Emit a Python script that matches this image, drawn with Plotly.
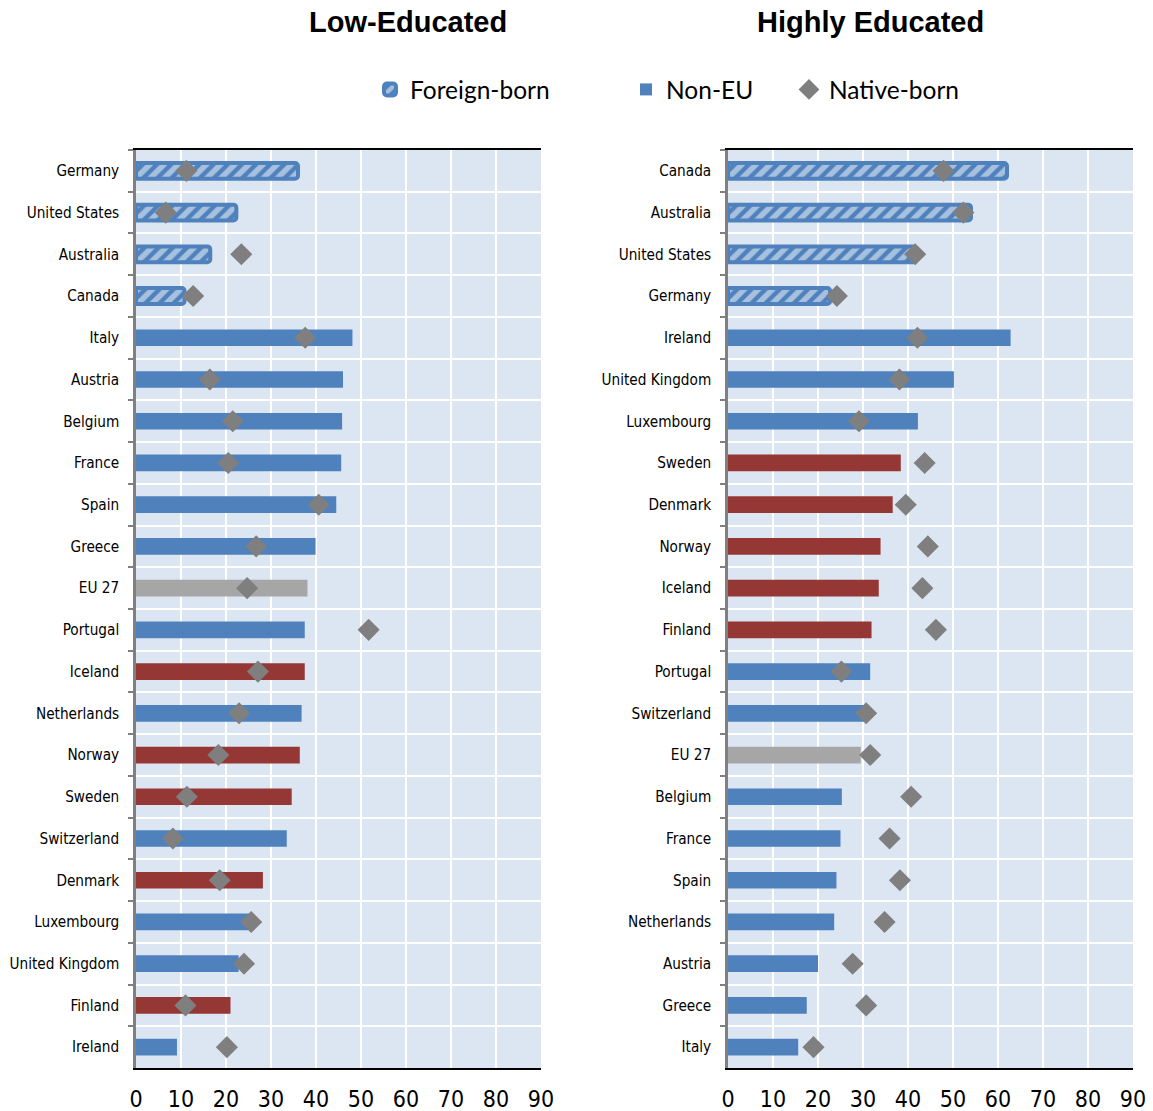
import plotly.graph_objects as go

# ---- Low-educated panel (top to bottom) ----
low_countries = ["Germany", "United States", "Australia", "Canada", "Italy", "Austria",
                 "Belgium", "France", "Spain", "Greece", "EU 27", "Portugal", "Iceland",
                 "Netherlands", "Norway", "Sweden", "Switzerland", "Denmark", "Luxembourg",
                 "United Kingdom", "Finland", "Ireland"]
low_group = ["FB", "FB", "FB", "FB", "NonEU", "NonEU", "NonEU", "NonEU", "NonEU", "NonEU",
             "EU", "NonEU", "Nordic", "NonEU", "Nordic", "Nordic", "NonEU", "Nordic",
             "NonEU", "NonEU", "Nordic", "NonEU"]
low_migrant = [36.0, 22.3, 16.5, 10.8, 48.1, 46.0, 45.8, 45.6, 44.5, 39.9, 38.1, 37.5, 37.5,
               36.8, 36.4, 34.6, 33.5, 28.2, 25.8, 22.8, 21.0, 9.1]
low_native = [11.2, 6.6, 23.4, 12.7, 37.6, 16.4, 21.5, 20.5, 40.6, 26.7, 24.7, 51.7, 27.1,
              22.9, 18.3, 11.3, 8.2, 18.6, 25.6, 24.0, 11.0, 20.2]

# ---- Highly educated panel (top to bottom) ----
high_countries = ["Canada", "Australia", "United States", "Germany", "Ireland",
                  "United Kingdom", "Luxembourg", "Sweden", "Denmark", "Norway", "Iceland",
                  "Finland", "Portugal", "Switzerland", "EU 27", "Belgium", "France", "Spain",
                  "Netherlands", "Austria", "Greece", "Italy"]
high_group = ["FB", "FB", "FB", "FB", "NonEU", "NonEU", "NonEU", "Nordic", "Nordic", "Nordic",
              "Nordic", "Nordic", "NonEU", "NonEU", "EU", "NonEU", "NonEU", "NonEU", "NonEU",
              "NonEU", "NonEU", "NonEU"]
high_migrant = [62.0, 54.0, 41.9, 22.7, 62.8, 50.2, 42.2, 38.4, 36.6, 33.9, 33.5, 31.9, 31.6,
                30.3, 29.5, 25.3, 25.0, 24.1, 23.6, 20.0, 17.5, 15.6]
high_native = [47.9, 52.3, 41.6, 24.2, 42.1, 38.1, 29.1, 43.7, 39.5, 44.4, 43.2, 46.2, 25.2,
               30.7, 31.6, 40.7, 35.9, 38.2, 34.8, 27.7, 30.7, 19.0]

x_ticks = [0, 10, 20, 30, 40, 50, 60, 70, 80, 90]

BLUE = "#4F81BD"
RED = "#953735"
GREY_BAR = "#A6A6A6"
DIAMOND = "#7F7F7F"
PLOT_BG = "#DCE6F2"
LABEL_FONT = "Liberation Sans Narrow, Arial Narrow, DejaVu Sans Condensed, sans-serif"
LEGEND_FONT = "Lato, Carlito, Calibri, sans-serif"

fig = go.Figure()


def add_panel(countries, groups, migrant, native, xa, ya, show_legend):
    for grp in ["FB", "NonEU", "Nordic", "EU"]:
        ys = [c for c, g in zip(countries, groups) if g == grp]
        xs = [v for v, g in zip(migrant, groups) if g == grp]
        if grp == "FB":
            fig.add_trace(go.Bar(
                x=xs, y=ys, orientation="h", xaxis=xa, yaxis=ya, width=0.38,
                name="Foreign-born", legend="legend", showlegend=show_legend,
                marker=dict(color=BLUE, cornerradius=3,
                            line=dict(color=BLUE, width=4),
                            pattern=dict(shape="/", fgcolor="white", bgcolor=BLUE,
                                         size=10, solidity=0.55, fillmode="overlay")),
                hoverinfo="x+y"))
        else:
            color = {"NonEU": BLUE, "Nordic": RED, "EU": GREY_BAR}[grp]
            fig.add_trace(go.Bar(
                x=xs, y=ys, orientation="h", xaxis=xa, yaxis=ya, width=0.4,
                name="Non-EU" if grp == "NonEU" else grp, legend="legend2",
                showlegend=show_legend and grp == "NonEU",
                marker=dict(color=color, line=dict(width=0)), hoverinfo="x+y"))
    fig.add_trace(go.Scatter(
        x=native, y=countries, mode="markers", xaxis=xa, yaxis=ya,
        name="Native-born", legend="legend3", showlegend=show_legend,
        marker=dict(symbol="diamond", size=17, color=DIAMOND, line=dict(width=0)),
        hoverinfo="x+y"))


add_panel(low_countries, low_group, low_migrant, low_native, "x", "y", True)
add_panel(high_countries, high_group, high_migrant, high_native, "x2", "y2", False)

W, H = 1153, 1111
left_dom = [136 / W, 541 / W]
right_dom = [728 / W, 1133 / W]
y_dom = [1 - 1068 / H, 1 - 150 / H]
n_cat = len(low_countries)

xaxis_common = dict(range=[0, 90], tickvals=x_ticks, showgrid=True, gridcolor="white",
                    gridwidth=2, zeroline=False, showline=True, linecolor="black",
                    linewidth=2, mirror=True, ticks="", fixedrange=True, automargin=False,
                    ticklabelstandoff=9,
                    tickfont=dict(family=LABEL_FONT, size=23, color="black"))
yaxis_common = dict(range=[n_cat - 0.5, -0.5], tickson="boundaries", ticks="outside",
                    ticklen=5, tickwidth=2, tickcolor="#808080", showgrid=True,
                    gridcolor="white", gridwidth=2, showline=True, linecolor="#808080",
                    linewidth=2.5, ticklabelstandoff=11, fixedrange=True, automargin=False,
                    tickfont=dict(family=LABEL_FONT, size=15.2, color="black"))

legend_common = dict(y=1 - 67 / H, xanchor="left", yanchor="top",
                     font=dict(family=LEGEND_FONT, size=24.5, color="black"),
                     bgcolor="rgba(0,0,0,0)", itemwidth=30)

fig.update_layout(
    width=W, height=H, autosize=False,
    margin=dict(l=0, r=0, t=0, b=0, autoexpand=False),
    paper_bgcolor="white",
    plot_bgcolor=PLOT_BG,
    barmode="overlay",
    xaxis=dict(domain=left_dom, anchor="y", **xaxis_common),
    yaxis=dict(domain=y_dom, anchor="x", categoryorder="array", categoryarray=low_countries,
               **yaxis_common),
    xaxis2=dict(domain=right_dom, anchor="y2", **xaxis_common),
    yaxis2=dict(domain=y_dom, anchor="x2", categoryorder="array",
                categoryarray=high_countries, **yaxis_common),
    legend=dict(x=370 / W, **legend_common),
    legend2=dict(x=626 / W, **legend_common),
    legend3=dict(x=789 / W, **legend_common),
    annotations=[
        dict(text="<b>Low-Educated</b>", x=408 / W, y=1 - 22 / H, xref="paper", yref="paper",
             showarrow=False, xanchor="center", yanchor="middle",
             font=dict(family="Liberation Sans, Arial, sans-serif", size=29, color="black")),
        dict(text="<b>Highly Educated</b>", x=870 / W, y=1 - 22 / H, xref="paper",
             yref="paper", showarrow=False, xanchor="center", yanchor="middle",
             font=dict(family="Liberation Sans, Arial, sans-serif", size=29, color="black")),
    ],
    showlegend=True,
)

fig.write_html("out.html", config={"responsive": False})
